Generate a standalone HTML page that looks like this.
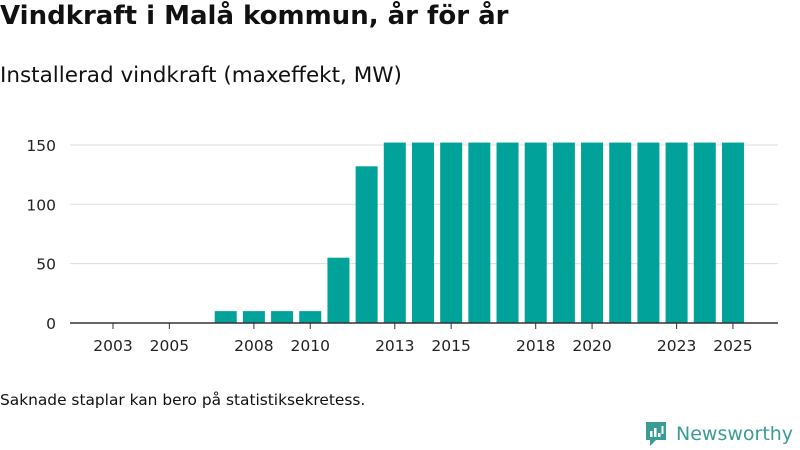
<!DOCTYPE html>
<html><head><meta charset="utf-8"><style>
body{margin:0;width:800px;height:450px;background:#fff;font-family:"DejaVu Sans","Liberation Sans",sans-serif;overflow:hidden;position:relative}
.t{position:absolute;white-space:nowrap;color:#111}
</style></head><body>
<div class="t" style="left:0;top:1px;font-size:26px;font-weight:bold">Vindkraft i Malå kommun, år för år</div>
<div class="t" style="left:0;top:63px;font-size:21.5px">Installerad vindkraft (maxeffekt, MW)</div>
<svg id="c" width="800" height="380" style="position:absolute;left:0;top:0"></svg>
<div class="t" style="left:0;top:391px;font-size:15.4px">Saknade staplar kan bero på statistiksekretess.</div>
<div style="position:absolute;left:644px;top:420px;display:flex;align-items:center">
<svg width="24" height="28" viewBox="0 0 24 28"><path d="M2 2h20v18H12l-6 6v-6H2z" fill="#3a9c94"/><rect x="6" y="11" width="2.5" height="6" fill="#fff"/><rect x="10" y="8" width="2.5" height="9" fill="#fff"/><rect x="14" y="13" width="2.5" height="4" fill="#fff"/><rect x="17.5" y="6" width="2" height="8" fill="#fff"/></svg>
<span style="font-size:19px;color:#3a9c94;margin-left:8px">Newsworthy</span></div>
<script>
const years=[2003,2004,2005,2006,2007,2008,2009,2010,2011,2012,2013,2014,2015,2016,2017,2018,2019,2020,2021,2022,2023,2024,2025];
const values=[0,0,0,0,10,10,10,10,55,132,152,152,152,152,152,152,152,152,152,152,152,152,152];
const yTicks=[0,50,100,150];
const xLabels=[2003,2005,2008,2010,2013,2015,2018,2020,2023,2025];
const svg=document.getElementById('c');const NS='http://www.w3.org/2000/svg';
const x=y=>113+(y-2003)*28.18;const yS=v=>323-v*1.187;
function el(t,a){const e=document.createElementNS(NS,t);for(const k in a)e.setAttribute(k,a[k]);svg.appendChild(e);return e;}
yTicks.forEach(v=>{if(v>0){const g=el('line',{x1:70,x2:778,y1:yS(v),y2:yS(v),stroke:'#ddd','stroke-width':1});

}
const t=el('text',{x:56,y:yS(v)+6,'text-anchor':'end','font-size':15.5,fill:'#222'});t.textContent=v;

});
years.forEach((yr,i)=>{if(values[i]>0){const r=el('rect',{x:x(yr)-11,y:yS(values[i]),width:22,height:323-yS(values[i]),fill:'#00a29a'});

}});
const ax=el('line',{x1:70,x2:778,y1:323,y2:323,stroke:'#333','stroke-width':1.5});


xLabels.forEach(yr=>{const tk=el('line',{x1:x(yr),x2:x(yr),y1:323,y2:329,stroke:'#333'});


const t=el('text',{x:x(yr),y:351,'text-anchor':'middle','font-size':15.5,fill:'#222'});t.textContent=yr;

});
</script>
</body></html>
